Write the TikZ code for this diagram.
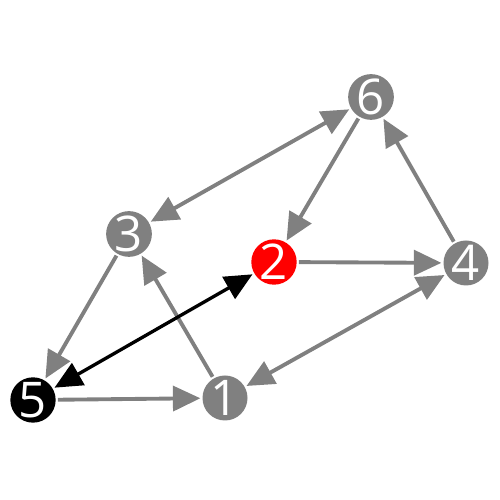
\documentclass[tikz,border=0pt]{standalone}
\usepackage{fontspec}
\setmainfont{Open Sans}
\usetikzlibrary{arrows.meta}
\definecolor{vgray}{HTML}{808080}
\definecolor{vred}{HTML}{FF0000}
\tikzset{
  vert/.style={circle, fill=vgray, text=white, minimum size=9mm, inner sep=0pt,
               font=\fontsize{28}{28}\selectfont},
  redvert/.style={vert, fill=vred},
  blackvert/.style={vert, fill=black},
  edge/.style={draw=vgray, line width=2.2pt, shorten >=1pt, shorten <=1pt,
               -{Triangle[length=5.5mm, width=5mm]}},
  bothedge/.style={edge, {Triangle[length=5.5mm, width=5mm]}-{Triangle[length=5.5mm, width=5mm]}},
  blackedge/.style={bothedge, draw=black, line width=1.9pt},
}

\begin{document}
\begin{tikzpicture}
    \useasboundingbox (0,0) rectangle (10,10);
    \node[vert] (v6) at (7.42, 8.06) {6};
    \node[vert] (v3) at (2.58, 5.32) {3};
    \node[redvert] (v2) at (5.48, 4.76) {2};
    \node[vert] (v4) at (9.32, 4.74) {4};
    \node[blackvert] (v5) at (0.66, 2.00) {5};
    \node[vert] (v1) at (4.50, 2.04) {1};
    \draw[bothedge] (v6) -- (v3);
    \draw[edge] (v6) -- (v2);
    \draw[edge] (v4) -- (v6);
    \draw[edge] (v2) -- (v4);
    \draw[bothedge] (v1) -- (v4);
    \draw[edge] (v1) -- (v3);
    \draw[edge] (v3) -- (v5);
    \draw[edge] (v5) -- (v1);
    \draw[blackedge] (v5) -- (v2);
  \end{tikzpicture}
\end{document}
